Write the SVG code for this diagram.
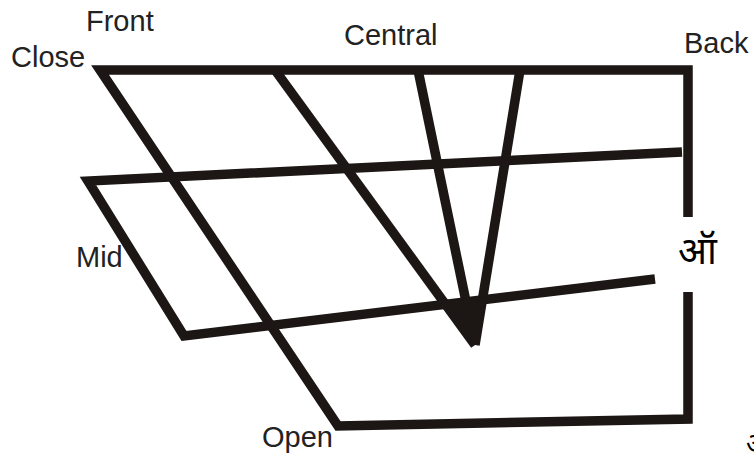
<svg xmlns="http://www.w3.org/2000/svg" width="754" height="462" viewBox="0 0 754 462">
<style>
.ln{fill:none;stroke:#1c1615;stroke-width:9.5;stroke-linejoin:miter;stroke-miterlimit:10}
.lb{font-family:"Liberation Sans",Arial,sans-serif;font-size:29px;fill:#222}
.dv{font-family:"Noto Sans Devanagari","Noto Sans","Liberation Sans",sans-serif;fill:#000}
</style>
<rect width="754" height="462" fill="#fff"/>
<g id="connectors">
<path class="ln" d="M688,217 L688,70 L100,70 L338,426 L688,419 L688,292"/>
<path class="ln" d="M682,152 L88,181 L184,336 L655,279"/>
<path class="ln" d="M275,70 L475,345"/>
<path class="ln" d="M418,70 L475,345"/>
<path class="ln" d="M520,70 L475,345"/>
<polygon points="449,301 487,296 475,345" fill="#1c1615"/>
</g>
<g id="labels">
<text class="lb" x="86" y="31">Front</text>
<text class="lb" x="11" y="67">Close</text>
<text class="lb" x="344" y="45">Central</text>
<text class="lb" x="684" y="53">Back</text>
<text class="lb" x="76" y="267">Mid</text>
<text class="lb" x="262" y="447">Open</text>
<text class="dv" x="678" y="264" font-size="38">ऑ</text>
<text class="dv" x="746" y="453" font-size="28">अ</text>
</g>
</svg>
